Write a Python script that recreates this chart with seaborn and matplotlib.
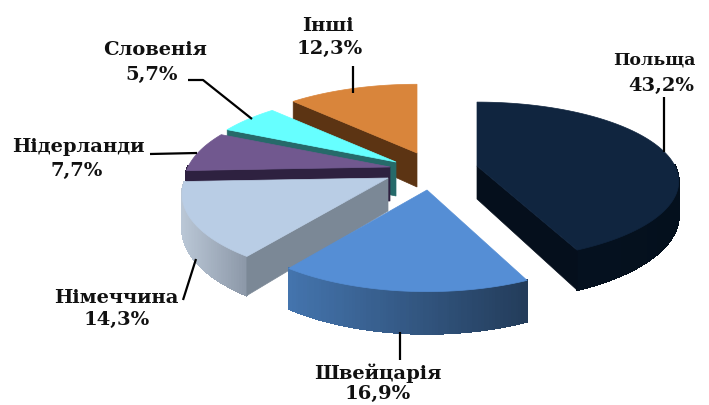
import numpy as np
import matplotlib
matplotlib.use("Agg")
import matplotlib.pyplot as plt
import seaborn as sns

# ---- data ----
countries = ["Польща", "Швейцарія", "Німеччина", "Нідерланди", "Словенія", "Інші"]
shares = [43.2, 16.9, 14.3, 7.7, 5.7, 12.3]

# ---- style ----
top_colors = ["#10253F", "#558ED5", "#B9CDE5", "#71588F", "#66FFFF", "#D9853B"]
cut_colors = ["#050F1C", "#24405F", "#7B8896", "#2E2140", "#266A6A", "#5C3413"]
arc_left = ["#071322", "#4474AD", "#BAC7D6", "#2E2140", "#266A6A", "#5C3413"]
arc_right = ["#04101D", "#233C5A", "#8C98A8", "#2E2140", "#266A6A", "#5C3413"]

# ---- projection layout (pixels) ----
apex = [(477, 166), (427, 190), (388, 178), (390, 167), (396, 162), (417, 153)]
x_factor = [0.98, 0.98, 1, 1, 1, 1]
y_factor = [0.93, 1, 1, 1, 1, 1]
depth0 = [33, 34, 33, 34, 34, 34]
RX, RY, K = 202.0, 82.0, 0.193
draw_order = [5, 4, 3, 2, 1, 0]

label_xy = [(654, 60), (378, 373), (116, 298), (78, 147), (155, 50), (328, 26)]
value_xy = [(661, 86), (378, 394), (117, 320), (77, 171), (152, 75), (330, 49)]
label_size = [12.5, 14, 14, 14, 14, 14]
leaders = [
    [(664, 97), (664, 152)],
    [(400, 332), (400, 360)],
    [(183, 300), (196, 259)],
    [(150, 154), (197, 153)],
    [(188, 80), (203, 80), (252, 119)],
    [(353, 66), (353, 93)],
]

sns.set_theme(style="white")
plt.rcParams["font.family"] = ["DejaVu Serif", "Liberation Serif"]

fig = plt.figure(figsize=(7.09, 4.05), dpi=100, facecolor="white")
ax = fig.add_axes([0, 0, 1, 1])

# the library computes the slice angles from the values
wedges, _ = ax.pie(shares, startangle=90, counterclock=False)
angles = [(w.theta1, w.theta2) for w in wedges]
for w in wedges:
    w.remove()
ax.set_aspect("auto")
ax.set_xlim(0, 709)
ax.set_ylim(405, 0)
ax.axis("off")


def project(i, X, Y, down=False):
    s = 1.0 / (1.0 + K * Y)
    x = apex[i][0] + RX * x_factor[i] * X * s
    y = apex[i][1] - RY * y_factor[i] * Y * s
    if down:
        y = y + depth0[i] * s
    return x, y


for z, i in enumerate(draw_order):
    t1, t2 = np.radians(angles[i])
    t = np.linspace(t1, t2, 90)
    ax_x, ax_y = project(i, np.cos(t), np.sin(t))
    bx_x, bx_y = project(i, np.cos(t), np.sin(t), down=True)
    a_x, a_y = project(i, 0.0, 0.0)
    b_x, b_y = project(i, 0.0, 0.0, down=True)
    base = 10 * (z + 1)
    cx, cy = np.mean(np.r_[ax_x, a_x]), np.mean(np.r_[ax_y, a_y])

    # outer wall, shaded left to right
    ramp = sns.blend_palette([arc_left[i], arc_right[i]], n_colors=64)
    xmin, xmax = ax_x.min(), ax_x.max()
    for k in range(len(t) - 1):
        mx = (ax_x[k] + ax_x[k + 1]) / 2
        if np.sin((t[k] + t[k + 1]) / 2) > 0.02:
            continue
        col = ramp[int(63 * (mx - xmin) / max(xmax - xmin, 1))]
        ax.fill([ax_x[k], ax_x[k + 1], bx_x[k + 1], bx_x[k]],
                [ax_y[k], ax_y[k + 1], bx_y[k + 1], bx_y[k]],
                color=col, lw=0.8, antialiased=False, zorder=base)

    # flat cut faces that look toward the viewer
    for idx in (0, -1):
        px, py = ax_x[idx], ax_y[idx]
        qx, qy = bx_x[idx], bx_y[idx]
        nx, ny = -(py - a_y), (px - a_x)
        if nx * (cx - a_x) + ny * (cy - a_y) > 0:
            nx, ny = -nx, -ny
        if ny > 0:
            ax.fill([a_x, px, qx, b_x], [a_y, py, qy, b_y],
                    color=cut_colors[i], lw=0.5, zorder=base + 1)

    # top face
    ax.fill(np.r_[a_x, ax_x], np.r_[a_y, ax_y],
            color=top_colors[i], lw=0.5, zorder=base + 2)

for pts in leaders:
    xs, ys = zip(*pts)
    ax.plot(xs, ys, color="black", lw=1.6, zorder=100, solid_capstyle="butt")

for name, v, lp, vp, fs in zip(countries, shares, label_xy, value_xy, label_size):
    ax.text(lp[0], lp[1], name, ha="center", va="center", fontsize=fs,
            fontweight="bold", color="#111111", zorder=110)
    ax.text(vp[0], vp[1], f"{v:.1f}%".replace(".", ","), ha="center", va="center",
            fontsize=14, fontweight="bold", color="#111111", zorder=110)

fig.savefig("out.png", dpi=100, facecolor="white")
